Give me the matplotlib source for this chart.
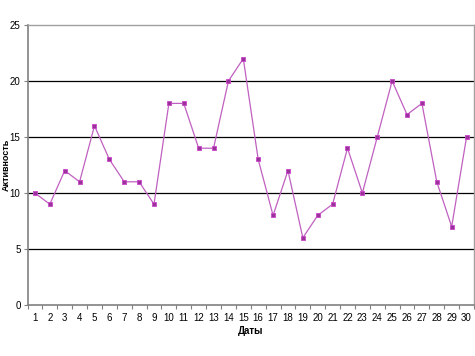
import matplotlib
matplotlib.use("Agg")
import matplotlib.pyplot as plt
from matplotlib.ticker import FixedLocator

plt.rcParams['font.family'] = ['Liberation Sans', 'DejaVu Sans']

days = list(range(1, 31))
values = [10, 9, 12, 11, 16, 13, 11, 11, 9, 18, 18, 14, 14, 20, 22,
          13, 8, 12, 6, 8, 9, 14, 10, 15, 20, 17, 18, 11, 7, 15]
y_ticks = [0, 5, 10, 15, 20, 25]

fig = plt.figure(figsize=(4.75, 3.56), dpi=100)
ax = fig.add_axes([27.5/475, 1 - 305/356, (474 - 27.5)/475, (305 - 25)/356])

for y in [5, 10, 15, 20]:
    ax.axhline(y, color='black', lw=0.9, zorder=1)

ax.plot(days, values, color='#C060C0', lw=0.9, marker='s', markersize=3.5,
        markerfacecolor='#993399', markeredgecolor='#CC44CC', markeredgewidth=0.6, zorder=3)

ax.set_xlim(0.5, 30.5)
ax.set_ylim(0, 25)
ax.set_yticks(y_ticks)
ax.set_xticks(days)
ax.xaxis.set_minor_locator(FixedLocator([i + 0.5 for i in range(0, 31)]))
ax.tick_params(axis='x', which='major', length=0, labelsize=7, pad=6)
ax.tick_params(axis='x', which='minor', length=3, width=0.8, color='#808080', direction='out')
ax.tick_params(axis='y', which='major', length=3, width=0.8, color='#808080', labelsize=7, pad=2)

for side in ['top', 'right']:
    ax.spines[side].set_color('#A0A0A0')
    ax.spines[side].set_linewidth(1.0)
for side in ['left', 'bottom']:
    ax.spines[side].set_color('#808080')
    ax.spines[side].set_linewidth(1.2)

ax.set_xlabel('Даты', fontsize=7, fontweight='bold', labelpad=2)
fig.text(6.5/475, 1 - 165/356, 'Активность', rotation=90, fontsize=6.5,
         fontweight='bold', ha='center', va='center')

fig.savefig('out.png', dpi=100)
